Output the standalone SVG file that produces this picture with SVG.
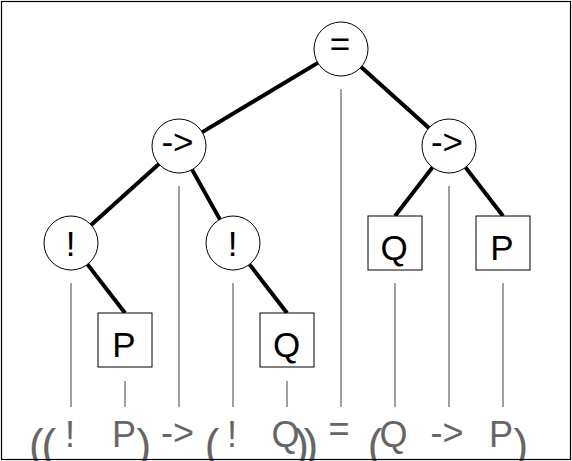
<svg xmlns="http://www.w3.org/2000/svg" width="572" height="461" viewBox="0 0 572 461">
<style>
.node circle{fill:#fff;stroke:#000;stroke-width:1}
.node rect{fill:#fff;stroke:#000;stroke-width:1}
.node text{font-family:"Liberation Sans",Arial,sans-serif;font-size:35px;fill:#000;text-anchor:middle}
.edge{stroke:#000;stroke-width:4;stroke-linecap:butt}
.guide{stroke:#a0a0a0;stroke-width:2}
.f{font-family:"Liberation Sans",Arial,sans-serif;font-size:36px;fill:#666;text-anchor:middle}
.p{font-family:"Liberation Sans",Arial,sans-serif;font-size:44px;fill:#666;text-anchor:middle}
</style>
<rect x="0" y="0" width="572" height="461" fill="#fff"/>
<g id="guides">
<line class="guide" x1="71" y1="283" x2="71" y2="407"/>
<line class="guide" x1="125" y1="381" x2="125" y2="407"/>
<line class="guide" x1="179" y1="186" x2="179" y2="407"/>
<line class="guide" x1="233" y1="283" x2="233" y2="407"/>
<line class="guide" x1="287" y1="381" x2="287" y2="407"/>
<line class="guide" x1="341" y1="89" x2="341" y2="407"/>
<line class="guide" x1="395" y1="283" x2="395" y2="407"/>
<line class="guide" x1="449" y1="186" x2="449" y2="407"/>
<line class="guide" x1="503" y1="283" x2="503" y2="407"/>
</g>
<g id="connectors">
<line class="edge" x1="317.8" y1="62.9" x2="202.2" y2="132.1"/>
<line class="edge" x1="361.1" y1="67" x2="428.9" y2="128"/>
<line class="edge" x1="158.9" y1="164" x2="91.1" y2="225"/>
<line class="edge" x1="192.1" y1="169.6" x2="219.9" y2="219.4"/>
<line class="edge" x1="87.5" y1="264.4" x2="125" y2="313"/>
<line class="edge" x1="249.5" y1="264.4" x2="287" y2="313"/>
<line class="edge" x1="432.5" y1="167.4" x2="395" y2="216"/>
<line class="edge" x1="465.5" y1="167.4" x2="503" y2="216"/>
</g>
<g id="n-root" class="node"><circle cx="341" cy="49" r="27"/><text x="340" y="55.5">=</text></g>
<g id="n-imp1" class="node"><circle cx="179" cy="146" r="27"/><text x="177.5" y="153.6">-&gt;</text></g>
<g id="n-imp2" class="node"><circle cx="449" cy="146" r="27"/><text x="447" y="153.6">-&gt;</text></g>
<g id="n-not1" class="node"><circle cx="71" cy="243" r="27"/><text x="70.5" y="255.7">!</text></g>
<g id="n-not2" class="node"><circle cx="233" cy="243" r="27"/><text x="232.5" y="255.7">!</text></g>
<g id="n-p1" class="node"><rect x="98" y="313" width="54" height="54"/><text x="124" y="357.3">P</text></g>
<g id="n-q1" class="node"><rect x="260" y="313" width="54" height="54"/><text x="286.5" y="357.3">Q</text></g>
<g id="n-q2" class="node"><rect x="368" y="216" width="54" height="54"/><text x="394" y="260.3">Q</text></g>
<g id="n-p2" class="node"><rect x="476" y="216" width="54" height="54"/><text x="502" y="260.3">P</text></g>
<g id="formula">
<text class="p" x="36.4" y="460">(</text>
<text class="p" x="48.9" y="460">(</text>
<text class="f" x="70" y="446.7">!</text>
<text class="f" x="124" y="446.7">P</text>
<text class="p" x="143.9" y="460">)</text>
<text class="f" x="177.5" y="444.6">-&gt;</text>
<text class="p" x="212.2" y="460">(</text>
<text class="f" x="232" y="446.7">!</text>
<text class="f" x="285.5" y="446.7">Q</text>
<text class="p" x="301.6" y="460">)</text>
<text class="p" x="310.9" y="460">)</text>
<text class="f" x="339" y="441">=</text>
<text class="p" x="375.2" y="460">(</text>
<text class="f" x="393.5" y="446.7">Q</text>
<text class="f" x="447" y="444.6">-&gt;</text>
<text class="f" x="501" y="446.7">P</text>
<text class="p" x="520.9" y="460">)</text>
</g>
<rect x="1.5" y="1.5" width="569" height="458" fill="none" stroke="#000" stroke-width="1.2"/>
</svg>
